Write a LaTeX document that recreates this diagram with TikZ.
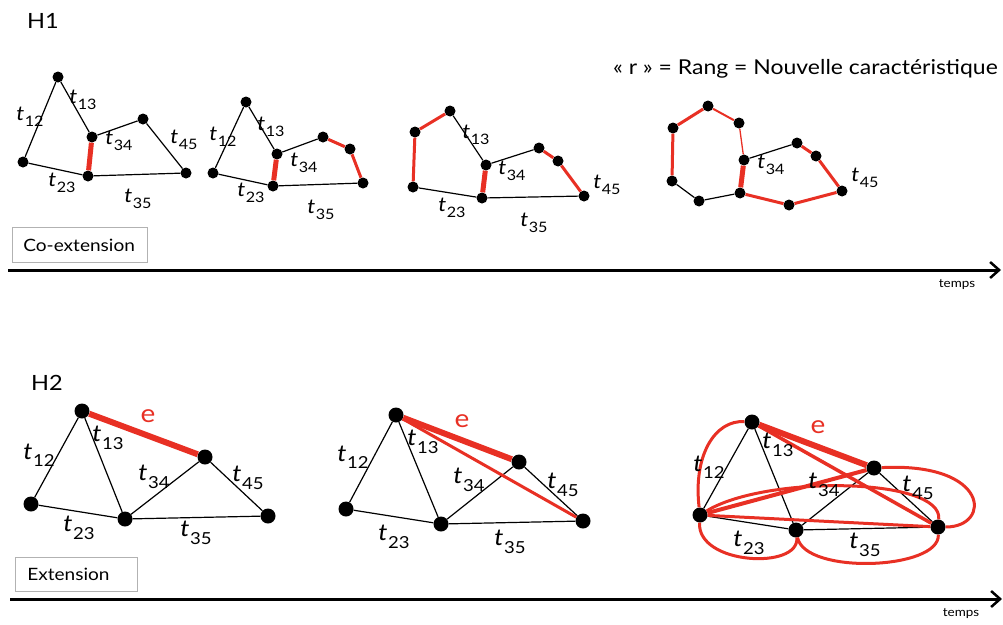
\documentclass[tikz,border=0pt]{standalone}
\usepackage{fontspec}
\setmainfont{Lato}[FakeStretch=1.12]
\usepackage{tikz}
\usetikzlibrary{arrows.meta}
\definecolor{hred}{RGB}{232,48,36}
% edge label: italic t with a sans subscript
\newcommand{\tlbl}[1]{\textit{t}\kern0.5pt\raisebox{-0.32em}{\scalebox{0.72}{#1}}}
\tikzset{
  % graph vertex
  dot/.style={circle, fill=black, inner sep=0pt, minimum size=11pt},
  bigdot/.style={dot, minimum size=15pt},
  % plain edge
  bline/.style={line width=1.2pt},
  % red edge
  rline/.style={draw=hred, line width=#1},
  rline/.default={3pt},
  % edge labels
  lab/.style={font=\fontsize{20}{24}\selectfont, inner sep=0pt},
  biglab/.style={font=\fontsize{23}{27}\selectfont, inner sep=0pt},
  elab/.style={font=\fontsize{25}{30}\selectfont, text=hred, inner sep=0pt},
  % caption box
  tagbox/.style={draw=black!30, line width=0.8pt, font=\fontsize{17}{21}\selectfont,
                 anchor=north west, align=left, inner ysep=0pt, minimum height=#1},
  tagbox/.default={35pt},
  % time axis
  timeline/.style={line width=3pt, -{Straight Barb[length=9pt,width=16pt,line width=2.5pt]}},
  timelab/.style={font=\fontsize{12}{14}\selectfont, inner sep=0pt},
  heading/.style={font=\fontsize{21}{25}\selectfont, anchor=west, inner sep=0pt},
}
\begin{document}
\begin{tikzpicture}[x=1pt,y=-1pt]
  \useasboundingbox (0,0) rectangle (1003,624);

  % ---------------- H1 ----------------
  \node[heading] (h1) at (27,21) {H1};
  \node[font=\fontsize{20.5}{24}\selectfont, anchor=east, inner sep=0pt] (rang) at (998,69)
    {« r » = Rang = Nouvelle caractéristique};

  % first graph
  \node[dot] (a1) at (58,77) {};
  \node[dot] (a2) at (23,162) {};
  \node[dot] (a3u) at (92,137) {};
  \node[dot] (a3d) at (88,176) {};
  \node[dot] (a4) at (143,119) {};
  \node[dot] (a5) at (186,173) {};
  \draw[bline] (a1) -- (a2);
  \draw[bline] (a1) -- (a3u);
  \draw[bline] (a2) -- (a3d);
  \draw[bline] (a3u) -- (a4);
  \draw[bline] (a4) -- (a5);
  \draw[bline] (a3d) -- (a5);
  \draw[rline=5pt] (a3u) -- (a3d);
  \node[lab] (la12) at (30,117) {\tlbl{12}};
  \node[lab] (la13) at (83,100) {\tlbl{13}};
  \node[lab] (la34) at (119,141) {\tlbl{34}};
  \node[lab] (la45) at (184,140) {\tlbl{45}};
  \node[lab] (la23) at (62,183) {\tlbl{23}};
  \node[lab] (la35) at (138,199) {\tlbl{35}};

  % second graph
  \node[dot] (b1) at (246,102) {};
  \node[dot] (b2) at (213,173) {};
  \node[dot] (b3u) at (277,154) {};
  \node[dot] (b3d) at (273,186) {};
  \node[dot] (b4) at (323,137) {};
  \node[dot] (b4b) at (350,149) {};
  \node[dot] (b5) at (363,183) {};
  \draw[bline] (b1) -- (b2);
  \draw[bline] (b1) -- (b3u);
  \draw[bline] (b2) -- (b3d);
  \draw[bline] (b3u) -- (b4);
  \draw[bline] (b3d) -- (b5);
  \draw[rline=5pt] (b3u) -- (b3d);
  \draw[rline] (b4) -- (b4b) -- (b5);
  \node[lab] (lb12) at (223,137) {\tlbl{12}};
  \node[lab] (lb13) at (271,127) {\tlbl{13}};
  \node[lab] (lb34) at (304,163) {\tlbl{34}};
  \node[lab] (lb23) at (251,193) {\tlbl{23}};
  \node[lab] (lb35) at (321,210) {\tlbl{35}};

  % third graph
  \node[dot] (c1) at (450,111) {};
  \node[dot] (c2u) at (415,132) {};
  \node[dot] (c2d) at (413,187) {};
  \node[dot] (c3u) at (486,165) {};
  \node[dot] (c3d) at (482,198) {};
  \node[dot] (c4) at (539,148) {};
  \node[dot] (c4b) at (558,161) {};
  \node[dot] (c5) at (584,196) {};
  \draw[bline] (c1) -- (c3u);
  \draw[bline] (c2d) -- (c3d);
  \draw[bline] (c3u) -- (c4);
  \draw[bline] (c3d) -- (c5);
  \draw[rline] (c1) -- (c2u) -- (c2d);
  \draw[rline=5pt] (c3u) -- (c3d);
  \draw[rline] (c4) -- (c4b) -- (c5);
  \node[lab] (lc13) at (476,135) {\tlbl{13}};
  \node[lab] (lc34) at (512,171) {\tlbl{34}};
  \node[lab] (lc45) at (607,185) {\tlbl{45}};
  \node[lab] (lc23) at (452,208) {\tlbl{23}};
  \node[lab] (lc35) at (534,223) {\tlbl{35}};

  % fourth graph
  \node[dot] (d1) at (708,106) {};
  \node[dot] (d1l) at (673,128) {};
  \node[dot] (d1r) at (739,123) {};
  \node[dot] (d2) at (672,181) {};
  \node[dot] (d2b) at (699,201) {};
  \node[dot] (d3u) at (744,160) {};
  \node[dot] (d3d) at (740,193) {};
  \node[dot] (d4) at (797,143) {};
  \node[dot] (d4b) at (816,156) {};
  \node[dot] (d5) at (842,191) {};
  \node[dot] (d5b) at (789,205) {};
  \draw[bline] (d2) -- (d2b) -- (d3d);
  \draw[bline] (d3u) -- (d4);
  \draw[rline] (d2) -- (d1l) -- (d1);
  \draw[rline=2pt] (d1) -- (d1r);
  \draw[rline=1.3pt] (d1r) -- (d3u);
  \draw[rline=5pt] (d3u) -- (d3d);
  \draw[rline] (d3d) -- (d5b) -- (d5) -- (d4b) -- (d4);
  \node[lab] (ld34) at (771,165) {\tlbl{34}};
  \node[lab] (ld45) at (865,178) {\tlbl{45}};

  \node[tagbox, inner xsep=11pt, text width=113pt] (coext) at (12,227) {Co-extension};
  \coordinate (ax1s) at (8,270);
  \coordinate (ax1e) at (1001,270);
  \draw[timeline] (ax1s) -- (ax1e);
  \node[timelab] (temps1) at (957,284) {temps};

  % ---------------- H2 ----------------
  \node[heading] (h2) at (31,383) {H2};

  % first graph
  \node[bigdot] (e1) at (82,411) {};
  \node[bigdot] (e2) at (31,504) {};
  \node[bigdot] (e3) at (125,519) {};
  \node[bigdot] (e4) at (205,457) {};
  \node[bigdot] (e5) at (268,516) {};
  % second graph
  \node[bigdot] (f1) at (396,415) {};
  \node[bigdot] (f2) at (346,509) {};
  \node[bigdot] (f3) at (441,524) {};
  \node[bigdot] (f4) at (519,462) {};
  \node[bigdot] (f5) at (583,521) {};
  % third graph
  \node[bigdot] (g1) at (752,422) {};
  \node[bigdot] (g2) at (700,515) {};
  \node[bigdot] (g3) at (796,530) {};
  \node[bigdot] (g4) at (874,468) {};
  \node[bigdot] (g5) at (938,527) {};

  \foreach \g in {e,f,g} {
    \draw[bline] (\g1) -- (\g2) -- (\g3) -- (\g1);
    \draw[bline] (\g3) -- (\g4) -- (\g5) -- (\g3);
    \draw[rline=6pt] (\g1) -- (\g4);
  }
  \draw[rline] (f1) -- (f5);

  \draw[rline=3.5pt] (g1) -- (g5);
  \draw[rline=4pt] (g2) -- (g4);
  \draw[rline] (g2) -- (g5);
  \draw[rline] (g1) .. controls +(-37,-2) and +(-7,-60) .. (g2);
  \draw[rline] (g2) .. controls +(-3,50) and +(4,40) .. (g3);
  \draw[rline] (g3) .. controls +(9,45) and +(2,43) .. (g5);
  \draw[rline] (g5) .. controls +(54,0) and +(116,-6) .. (g4);
  \draw[rline] (g2) .. controls +(65,-40) and +(5,-50) .. (g5);

  \node[elab] (le1) at (148,416) {e};
  \node[biglab] (le12) at (39,455) {\tlbl{12}};
  \node[biglab] (le13) at (108,438) {\tlbl{13}};
  \node[biglab] (le34) at (154,477) {\tlbl{34}};
  \node[biglab] (le45) at (248,478) {\tlbl{45}};
  \node[biglab] (le23) at (79,528) {\tlbl{23}};
  \node[biglab] (le35) at (196,533) {\tlbl{35}};

  \node[elab] (lf1) at (462,421) {e};
  \node[biglab] (lf12) at (353,457) {\tlbl{12}};
  \node[biglab] (lf13) at (423,442) {\tlbl{13}};
  \node[biglab] (lf34) at (469,480) {\tlbl{34}};
  \node[biglab] (lf45) at (563,485) {\tlbl{45}};
  \node[biglab] (lf23) at (394,537) {\tlbl{23}};
  \node[biglab] (lf35) at (510,542) {\tlbl{35}};

  \node[elab] (lg1) at (818,427) {e};
  \node[biglab] (lg12) at (709,467) {\tlbl{12}};
  \node[biglab] (lg13) at (778,445) {\tlbl{13}};
  \node[biglab] (lg34) at (824,485) {\tlbl{34}};
  \node[biglab] (lg45) at (918,488) {\tlbl{45}};
  \node[biglab] (lg23) at (749,543) {\tlbl{23}};
  \node[biglab] (lg35) at (865,545) {\tlbl{35}};

  \node[tagbox=34pt, inner xsep=12pt, text width=98pt] (ext) at (15,557) {Extension};
  \coordinate (ax2s) at (10,599);
  \coordinate (ax2e) at (1002,599);
  \draw[timeline] (ax2s) -- (ax2e);
  \node[timelab] (temps2) at (961,613) {temps};
\end{tikzpicture}
\end{document}
